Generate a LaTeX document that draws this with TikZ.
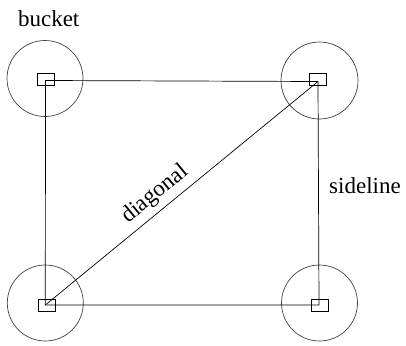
\documentclass[tikz,border=0pt]{standalone}
\usepackage{fontspec}
\setmainfont{Liberation Serif}
\begin{document}
\begin{tikzpicture}[x=1pt,y=-1pt,
  edge/.style={draw=black,line width=0.7pt},
  bucketring/.style={draw=black!75,line width=0.7pt},
  peg/.style={draw=black,line width=0.7pt,minimum width=17pt,minimum height=12pt,inner sep=0pt},
  lbl/.style={font=\fontsize{23}{27}\selectfont,inner sep=0pt}]
\useasboundingbox (0,0) rectangle (406,345);
% corner points of the layout
\coordinate (tl) at (45.5,80.5);
\coordinate (tr) at (318,81.5);
\coordinate (bl) at (45.3,305);
\coordinate (br) at (319,305);
% buckets
\draw[bucketring] (45,78.5) circle (38);
\draw[bucketring] (319.5,80.5) circle (38.5);
\draw[bucketring] (45.3,303) circle (38);
\draw[bucketring] (319.5,303) circle (38);
% small markers
\node[peg] (ptl) at (46,79.2) {};
\node[peg] (ptr) at (318,79.8) {};
\node[peg] (pbl) at (47,305.2) {};
\node[peg] (pbr) at (319.7,305.2) {};
% sides and diagonal
\draw[edge] (tl) -- (tr) -- (br) -- (bl) -- cycle;
\draw[edge] (bl) -- node[lbl,sloped,above=5pt,pos=0.44] (dlab) {diagonal} (tr);
% labels
\node[lbl,anchor=base] (blab) at (48.7,26.7) {bucket};
\node[lbl,anchor=base west] (slab) at (329,193.3) {sideline};
\end{tikzpicture}
\end{document}
